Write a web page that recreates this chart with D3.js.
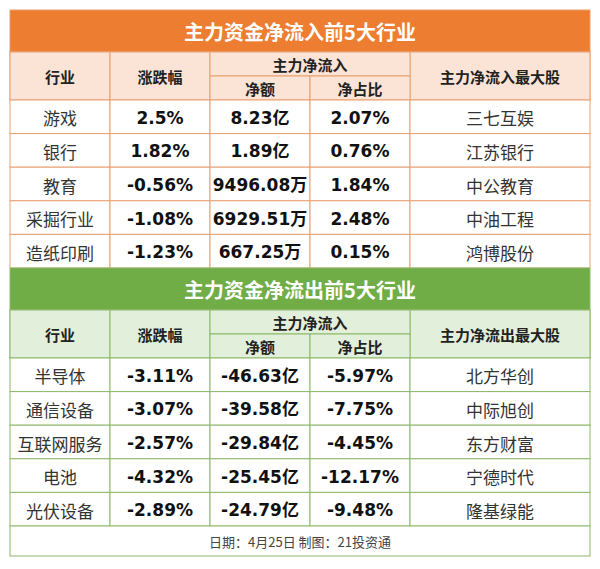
<!DOCTYPE html><html><head><meta charset="utf-8"><script src="https://cdn.jsdelivr.net/npm/d3@7"></script>
<style>body{margin:0;background:#fff}</style></head><body><svg id="c" width="600" height="569"></svg>
<script>
const inTitle="主力资金净流入前5大行业", outTitle="主力资金净流出前5大行业";
const inIndustry=["游戏","银行","教育","采掘行业","造纸印刷"];
const inChange=["2.5%","1.82%","-0.56%","-1.08%","-1.23%"];
const inAmount=["8.23亿","1.89亿","9496.08万","6929.51万","667.25万"];
const inRatio=["2.07%","0.76%","1.84%","2.48%","0.15%"];
const inStock=["三七互娱","江苏银行","中公教育","中油工程","鸿博股份"];
const outIndustry=["半导体","通信设备","互联网服务","电池","光伏设备"];
const outChange=["-3.11%","-3.07%","-2.57%","-4.32%","-2.89%"];
const outAmount=["-46.63亿","-39.58亿","-29.84亿","-25.45亿","-24.79亿"];
const outRatio=["-5.97%","-7.75%","-4.45%","-12.17%","-9.48%"];
const outStock=["北方华创","中际旭创","东方财富","宁德时代","隆基绿能"];
const footer="日期：4月25日 制图：21投资通";

const svg=d3.select("#c");
const L=10,R=590;
const colW=[1,1,1,1,1.8];
const cum=[0];colW.forEach(w=>cum.push(cum[cum.length-1]+w));
const x=d3.scaleLinear().domain([0,cum[5]]).range([L,R]);
const cjk="'Noto Sans CJK SC',sans-serif", num="'DejaVu Sans','Noto Sans CJK SC',sans-serif";
function txt(t,cx,cy,size,weight,fill,font){svg.append("text").attr("x",cx).attr("y",cy).attr("text-anchor","middle").attr("dominant-baseline","central").attr("font-size",size).attr("font-weight",weight).attr("fill",fill).attr("font-family",font).text(t);}
function rect(x0,y0,w,h,fill,stroke){svg.append("rect").attr("x",x0).attr("y",y0).attr("width",w).attr("height",h).attr("fill",fill).attr("stroke",stroke).attr("stroke-width",1);}
function section(y0,title,dark,light,border,rows,midHdr,lastHdr){
  rect(L,y0,R-L,42,dark,border);
  txt(title,300,y0+21,20,"bold","#fff",cjk);
  const hy=y0+42,hh=48;
  rect(L,hy,R-L,hh,light,border);
  [[0,"行业"],[1,"涨跌幅"],[4,lastHdr]].forEach(([i,t])=>{
    rect(x(cum[i]),hy,x(cum[i+1])-x(cum[i]),hh,light,border);
    txt(t,(x(cum[i])+x(cum[i+1]))/2,hy+hh/2,15,"bold","#222",cjk);});
  rect(x(cum[2]),hy,x(cum[4])-x(cum[2]),24,light,border);
  txt(midHdr,(x(cum[2])+x(cum[4]))/2,hy+12,15,"bold","#222",cjk);
  rect(x(cum[2]),hy+24,x(cum[3])-x(cum[2]),24,light,border);
  rect(x(cum[3]),hy+24,x(cum[4])-x(cum[3]),24,light,border);
  txt("净额",(x(cum[2])+x(cum[3]))/2,hy+36,15,"bold","#222",cjk);
  txt("净占比",(x(cum[3])+x(cum[4]))/2,hy+36,15,"bold","#222",cjk);
  const ry=hy+hh,rh=33.6;
  const y=d3.scaleLinear().domain([0,5]).range([ry,ry+5*rh]);
  rows.forEach((col,ci)=>col.forEach((v,ri)=>{
    rect(x(cum[ci]),y(ri),x(cum[ci+1])-x(cum[ci]),rh,"#fff",border);
    const isNum=ci>=1&&ci<=3;
    txt(v,(x(cum[ci])+x(cum[ci+1]))/2,y(ri)+rh/2+1,isNum?17:17,isNum?"bold":"normal",isNum?"#111":"#333",isNum?num:cjk);
  }));
  return ry+5*rh;
}
let e=section(10,inTitle,"#ED7D31","#FBE4D5","#E8A070",[inIndustry,inChange,inAmount,inRatio,inStock],"主力净流入","主力净流入最大股");
e=section(e,outTitle,"#70AD47","#E2EFDA","#8DB86A",[outIndustry,outChange,outAmount,outRatio,outStock],"主力净流入","主力净流出最大股");
rect(L,e,R-L,30,"#fff","#8DB86A");
txt(footer,300,e+15,13,"normal","#444",cjk);
</script></body></html>
